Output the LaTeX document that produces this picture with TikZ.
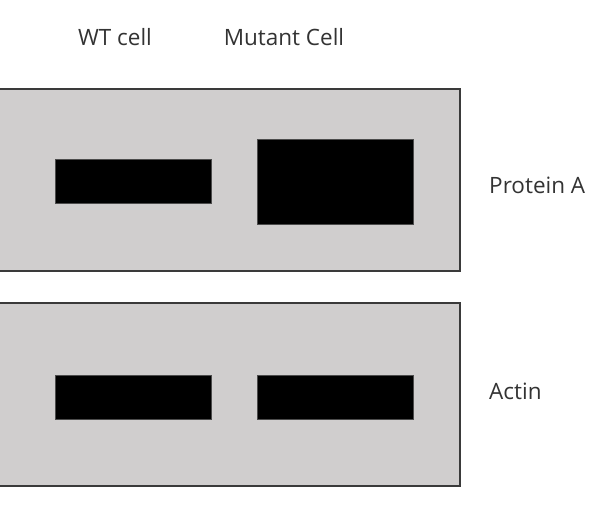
\documentclass[tikz,border=0pt]{standalone}
\usepackage{fontspec}
\setmainfont{Open Sans}
\definecolor{blotgray}{HTML}{D0CECE}
\definecolor{edgegray}{HTML}{3A3A3A}
\begin{document}
\begin{tikzpicture}[x=1pt,y=-1pt,
  membrane/.style={draw=edgegray,line width=1.3pt,fill=blotgray},
  band/.style={fill=black,draw=black!70,line width=0.4pt},
  lbl/.style={font=\fontsize{22.5}{26}\selectfont,text=black!80,inner sep=0pt}]
\useasboundingbox (0,0) rectangle (602,507);
\begin{scope}
\clip (0,0) rectangle (602,507);
\path[membrane] (-5,89) rectangle (460,271);
\path[membrane] (-5,303) rectangle (460,486);
\end{scope}
\path[band] (55,159) rectangle (211,203);
\path[band] (257,139) rectangle (413,224);
\path[band] (55,375) rectangle (211,419);
\path[band] (257,375) rectangle (413,419);
\node[lbl,anchor=base] (wt) at (115,45) {WT cell};
\node[lbl,anchor=base] (mut) at (284,45) {Mutant Cell};
\node[lbl,anchor=base west] (pa) at (489,193) {Protein A};
\node[lbl,anchor=base west] (ac) at (489,399) {Actin};
\end{tikzpicture}
\end{document}
